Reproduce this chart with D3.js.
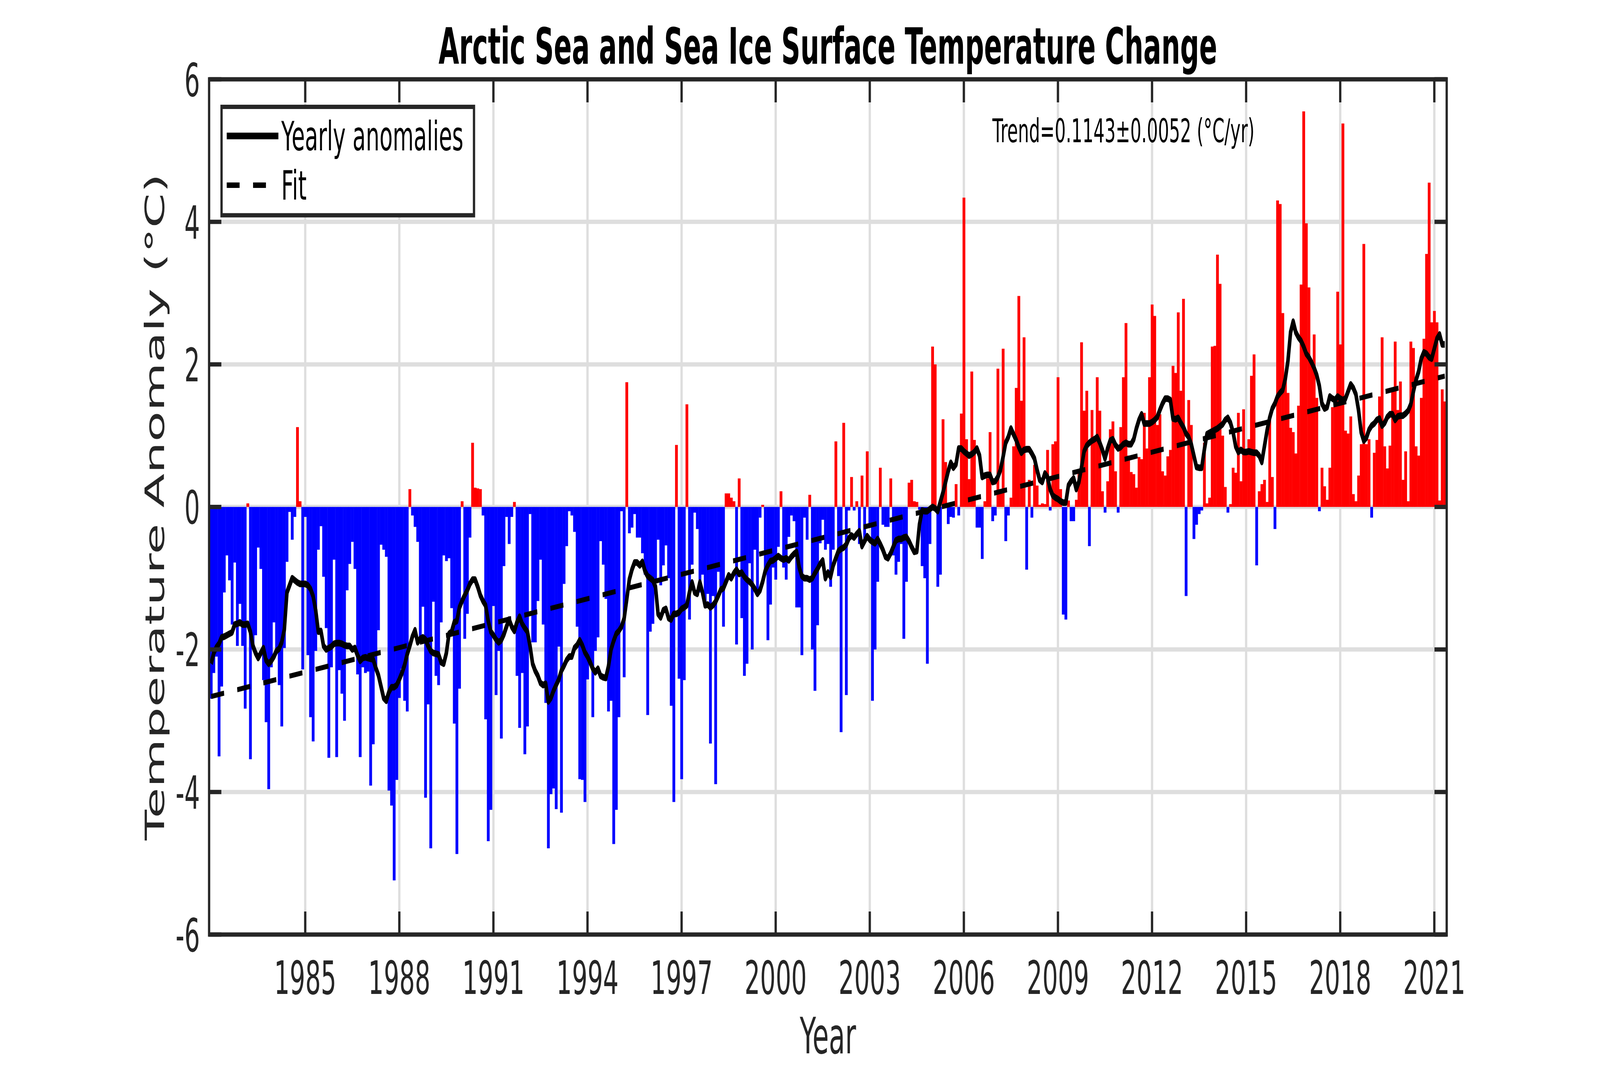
<!DOCTYPE html>
<html lang="en">
<head>
<meta charset="UTF-8">
<title>Arctic Sea and Sea Ice Surface Temperature Change</title>
<script src="https://d3js.org/d3.v7.min.js"></script>
<style>
  html, body { margin: 0; padding: 0; width: 100%; height: 100%; overflow: hidden; background: #fff; }
  svg { display: block; width: 100vw; height: 100vh; font-family: "DejaVu Sans", sans-serif; }
</style>
</head>
<body>
<svg id="chart" viewBox="0 0 7713 2731" preserveAspectRatio="none"></svg>
<script>
  const width = 7713;
  const height = 2731;
  const margin = {top: 203, right: 739, bottom: 339, left: 1008};

  // monthly anomalies (°C), Jan 1982 onward, one row per year
  const firstYear = 1982;
  const monthlyAnomaly = [
    -2.69, -2.33, -2.1, -3.5, -2.52, -1.2, -0.68, -1.03, -1.65, -0.78, -1.95, -1.36,
    -1.95, -2.83, 0.05, -3.54, -2.0, -1.8, -0.57, -0.87, -2.43, -3.02, -3.96, -2.25,
    -1.62, -2.0, -2.5, -3.08, -1.98, -0.77, -0.07, -0.46, -0.14, 1.12, 0.08, -2.28,
    -0.14, -2.08, -2.95, -3.29, -2.02, -0.6, -0.27, -0.98, -1.7, -3.52, -2.25, -0.74,
    -3.51, -2.29, -2.62, -3.0, -1.17, -0.8, -0.49, -0.87, -2.35, -3.51, -2.25, -2.33,
    -2.31, -3.91, -3.33, -2.29, -1.73, -0.53, -0.6, -0.7, -3.98, -4.19, -5.24, -3.83,
    -2.68, -2.27, -2.72, -2.87, 0.25, -0.12, -0.28, -0.49, -1.9, -1.4, -4.08, -2.77,
    -4.79, -1.33, -2.37, -2.5, -1.62, -0.68, -0.76, -0.72, -1.42, -3.04, -4.87, -2.55,
    0.08, -1.85, -1.5, -0.43, 0.9, 0.27, 0.26, 0.25, -0.12, -2.98, -4.69, -4.25,
    -1.39, -2.64, -2.02, -3.25, -0.83, -0.14, -0.52, -0.14, 0.07, -2.37, -3.1, -2.33,
    -3.47, -3.08, -0.1, -1.9, -1.9, -1.32, -0.74, -1.65, -2.75, -4.79, -4.03, -3.95,
    -4.24, -1.96, -4.29, -1.08, -0.55, -0.06, -0.12, -0.35, -1.68, -3.82, -3.83, -4.14,
    -2.42, -2.2, -2.95, -2.02, -1.83, -0.48, -0.81, -1.29, -2.87, -2.72, -4.73, -4.25,
    -2.95, -0.06, -2.39, 1.75, -0.37, -0.29, -0.1, -0.43, -0.43, -0.65, -0.95, -2.92,
    -1.75, -1.64, -1.06, -0.46, -1.1, -0.82, -0.54, -1.0, -2.79, -4.14, 0.87, -2.41,
    -3.82, -2.43, 1.44, -1.58, -0.81, -0.08, -0.31, -1.2, -0.95, -1.4, -1.22, -3.32,
    -1.25, -3.89, -0.91, -1.15, -1.68, 0.19, 0.19, 0.13, 0.08, -1.93, 0.4, -1.56,
    -2.37, -2.2, -0.79, -2.0, -0.6, -1.2, -0.15, 0.03, -0.95, -1.87, -1.37, -0.85,
    -1.02, -0.56, 0.22, -0.85, -1.02, -0.42, -0.12, -0.2, -1.41, -1.41, -2.08, -0.15,
    -0.46, 0.17, -2.0, -2.58, -1.66, -0.51, -0.18, -0.6, -0.52, -1.12, -0.6, 0.92,
    -0.97, -3.16, 1.18, -2.64, -0.05, 0.42, -0.05, 0.08, -0.52, 0.44, -0.45, 0.78,
    -0.29, -2.72, -2.0, -1.05, 0.55, -0.25, -0.28, -0.28, 0.4, -0.68, -0.95, -0.77,
    -0.52, -1.85, -1.05, 0.34, 0.38, 0.08, 0.07, -0.04, -0.83, -1.0, -2.2, -0.52,
    2.25, 2.0, -1.12, -0.95, 1.23, 0.63, -0.24, -0.14, -0.15, 0.32, -0.12, 1.31,
    4.34, 0.95, 0.39, 1.9, 0.94, -0.29, -0.29, -0.73, 0.08, 0.4, 1.05, -0.2,
    -0.12, 1.94, 0.25, 2.22, -0.48, -0.12, 0.13, 0.85, 1.67, 2.96, 1.49, 2.38,
    -0.88, 0.38, -0.15, 0.59, 0.3, 0.03, 0.05, 0.04, 0.8, -0.05, 0.88, 0.92,
    1.82, 0.25, -1.51, -1.58, 0.09, -0.2, -0.2, 0.1, 0.5, 2.31, 1.35, 1.63,
    -0.55, 1.36, 0.98, 1.82, 1.35, 0.22, -0.08, 0.36, 1.09, 1.2, 0.5, -0.08,
    1.12, 1.82, 2.58, 0.72, 0.49, 0.46, 0.27, 0.7, 0.67, 1.32, 0.82, 1.82,
    2.84, 2.68, 1.15, 1.3, 0.5, 0.44, 0.71, 0.8, 1.98, 1.88, 2.73, 1.63,
    2.92, -1.25, 1.5, 1.15, -0.45, -0.25, -0.1, -0.05, 0.9, 0.05, 0.13, 2.25,
    2.26, 3.54, 3.13, 1.0, 0.28, -0.08, 0.04, 0.55, 0.48, 1.32, 0.36, 1.37,
    0.78, 0.95, 1.84, 2.14, -0.82, 0.22, 0.32, 0.38, 0.07, 1.25, 0.42, -0.31,
    4.3, 4.25, 2.72, 1.8, 1.6, 1.11, 1.05, 0.75, 1.42, 3.12, 5.55, 3.98,
    3.08, 2.0, 2.42, 1.53, -0.06, 0.55, 0.29, 0.1, 0.55, 1.4, 1.45, 3.02,
    2.28, 5.38, 1.07, 1.03, 1.27, 0.18, 0.08, 0.44, 0.88, 3.69, 0.88, 0.95,
    -0.15, 0.76, 0.94, 1.55, 2.38, 0.85, 0.54, 0.86, 1.67, 2.32, 1.36, 1.76,
    0.38, 0.78, 0.08, 2.32, 2.23, 0.85, 0.72, 1.53, 2.36, 3.55, 4.55, 2.59,
    2.75, 2.59, 0.09, 1.65, 1.48
  ];

  // yearly (running) anomalies, same months
  const yearlyAnomaly = [
    -2.2, -2.05, -1.97, -1.92, -1.83, -1.82, -1.8, -1.78, -1.76, -1.65, -1.64, -1.62,
    -1.65, -1.65, -1.64, -1.75, -1.95, -2.05, -2.12, -2.05, -1.98, -2.15, -2.2, -2.16,
    -2.1, -2.02, -1.99, -1.9, -1.72, -1.2, -1.1, -1.0, -1.03, -1.06, -1.08, -1.08,
    -1.08, -1.1, -1.15, -1.25, -1.45, -1.75, -1.74, -1.95, -2.0, -1.98, -1.96, -1.92,
    -1.91, -1.91, -1.92, -1.94, -1.95, -1.95, -2.0, -1.98, -2.08, -2.16, -2.12, -2.11,
    -2.12, -2.13, -2.14, -2.26, -2.36, -2.52, -2.68, -2.72, -2.6, -2.53, -2.53, -2.5,
    -2.42, -2.33, -2.22, -2.07, -1.95, -1.82, -1.73, -1.9, -1.85, -1.83, -1.86, -1.95,
    -2.02, -2.05, -2.06, -2.07, -2.18, -2.2, -2.05, -1.78, -1.75, -1.62, -1.6, -1.41,
    -1.32, -1.24, -1.17, -1.08, -1.02, -1.02, -1.12, -1.24, -1.32, -1.38, -1.6, -1.75,
    -1.8, -1.86, -1.9, -1.87, -1.79, -1.68, -1.58, -1.68, -1.74, -1.62, -1.54, -1.64,
    -1.7, -1.75, -1.95, -2.2, -2.3, -2.37, -2.47, -2.5, -2.48, -2.73, -2.68, -2.58,
    -2.5, -2.42, -2.3, -2.23, -2.15, -2.1, -2.1, -1.98, -1.94, -1.87, -1.94, -2.04,
    -2.1, -2.18, -2.27, -2.32, -2.27, -2.37, -2.39, -2.4, -2.24, -2.0, -1.88, -1.78,
    -1.74, -1.68, -1.57, -1.3, -1.02, -0.88, -0.78, -0.78, -0.82, -0.77, -0.9, -0.97,
    -1.0, -1.03, -1.12, -1.5, -1.55, -1.45, -1.43, -1.56, -1.58, -1.5, -1.5, -1.48,
    -1.43, -1.41, -1.38, -1.2, -1.06, -1.2, -1.22, -1.06, -1.2, -1.38, -1.37, -1.41,
    -1.38, -1.33, -1.25, -1.16, -1.14, -1.05, -0.96, -1.0, -0.93, -0.88, -0.94, -0.92,
    -0.98, -1.02, -1.05, -1.09, -1.15, -1.22, -1.17, -1.05, -0.9, -0.82, -0.76, -0.75,
    -0.72, -0.69, -0.72, -0.74, -0.72, -0.75, -0.7, -0.66, -0.63, -0.85, -0.97, -1.0,
    -1.0, -1.02, -1.0, -0.93, -0.87, -0.8, -0.75, -1.0, -0.92, -0.98, -0.82, -0.72,
    -0.62, -0.59, -0.57, -0.53, -0.44, -0.4, -0.43, -0.38, -0.34, -0.55, -0.48, -0.41,
    -0.46, -0.49, -0.51, -0.45, -0.52, -0.6, -0.7, -0.72, -0.65, -0.56, -0.47, -0.45,
    -0.45, -0.43, -0.42, -0.48, -0.56, -0.63, -0.62, -0.25, -0.05, -0.06, -0.06, -0.03,
    0.0, -0.02, -0.06, 0.07, 0.2, 0.35, 0.5, 0.62, 0.55, 0.6, 0.82, 0.82,
    0.78, 0.75, 0.72, 0.74, 0.77, 0.82, 0.72, 0.42, 0.44, 0.45, 0.45, 0.35,
    0.36, 0.42, 0.52, 0.7, 0.9, 0.98, 1.1, 1.02, 0.94, 0.84, 0.76, 0.8,
    0.81, 0.81, 0.75, 0.68, 0.52, 0.38, 0.35, 0.47, 0.42, 0.25, 0.16, 0.13,
    0.11, 0.08, 0.06, 0.06, 0.3, 0.36, 0.4, 0.25, 0.35, 0.55, 0.78, 0.86,
    0.9, 0.93, 0.95, 0.98, 0.9, 0.8, 0.68, 0.82, 0.93, 0.95, 0.87, 0.82,
    0.84, 0.88, 0.9, 0.88, 0.88, 0.95, 1.1, 1.22, 1.3, 1.17, 1.17, 1.17,
    1.19, 1.22, 1.26, 1.36, 1.45, 1.52, 1.52, 1.5, 1.24, 1.23, 1.25, 1.18,
    1.12, 1.03, 0.98, 0.88, 0.72, 0.56, 0.55, 0.55, 0.8, 1.02, 1.04, 1.06,
    1.08, 1.1, 1.13, 1.16, 1.22, 1.25, 1.18, 1.05, 0.85, 0.77, 0.8, 0.77,
    0.77, 0.78, 0.77, 0.76, 0.76, 0.72, 0.63, 0.85, 1.07, 1.25, 1.38, 1.45,
    1.55, 1.6, 1.64, 1.8, 2.05, 2.45, 2.6, 2.45, 2.38, 2.33, 2.25, 2.15,
    2.1, 2.03, 1.95, 1.85, 1.7, 1.45, 1.38, 1.4, 1.55, 1.52, 1.5, 1.55,
    1.52, 1.5, 1.52, 1.62, 1.72, 1.67, 1.58, 1.36, 1.05, 0.93, 0.97, 1.08,
    1.14, 1.17, 1.22, 1.24, 1.14, 1.18, 1.26, 1.3, 1.3, 1.22, 1.27, 1.28,
    1.28, 1.31, 1.35, 1.44, 1.62, 1.78, 1.9, 2.08, 2.17, 2.15, 2.1, 2.08,
    2.22, 2.36, 2.42, 2.28, 2.28
  ];

  // linear fit: value at Jan 1982 and slope
  const fitAt1982 = -2.66;
  const trendPerYear = 0.1143;
  const trendLabel = 'Trend=0.1143\u00b10.0052 (\u00b0C/yr)';

  const xTicks = [1985, 1988, 1991, 1994, 1997, 2000, 2003, 2006, 2009, 2012, 2015, 2018, 2021];
  const yTicks = [-6, -4, -2, 0, 2, 4, 6];
  const legendLabels = ['Yearly anomalies', 'Fit'];

  const data = monthlyAnomaly.map((v, i) => ({t: firstYear + i / 12, v: v, yr: yearlyAnomaly[i]}));

  const x = d3.scaleLinear()
      .domain([1981.935, 2021.395])
      .range([margin.left, width - margin.right]);

  const y = d3.scaleLinear()
      .domain([-6, 6])
      .range([height - margin.bottom, margin.top]);

  const axisColor = '#262626';
  const svg = d3.select('#chart');

  svg.append('rect').attr('width', width).attr('height', height).attr('fill', '#fff');

  svg.append('clipPath').attr('id', 'plot-clip')
    .append('rect')
      .attr('x', margin.left).attr('y', margin.top)
      .attr('width', width - margin.left - margin.right)
      .attr('height', height - margin.top - margin.bottom);

  // grid
  const grid = svg.append('g').attr('stroke', '#dedede').attr('stroke-width', 11);
  grid.selectAll('.gx').data(xTicks).enter().append('line')
      .attr('x1', d => x(d)).attr('x2', d => x(d))
      .attr('y1', y(6)).attr('y2', y(-6));
  grid.selectAll('.gy').data(yTicks).enter().append('line')
      .attr('x1', x.range()[0]).attr('x2', x.range()[1])
      .attr('y1', d => y(d)).attr('y2', d => y(d));

  const plot = svg.append('g').attr('clip-path', 'url(#plot-clip)');

  // monthly bars
  const half = 1 / 24;
  plot.append('g').selectAll('rect').data(data).enter().append('rect')
      .attr('x', d => x(d.t - half))
      .attr('width', d => x(d.t + half) - x(d.t - half) + 0.8)
      .attr('y', d => Math.min(y(d.v), y(0)))
      .attr('height', d => Math.abs(y(d.v) - y(0)))
      .attr('fill', d => d.v >= 0 ? '#ff0000' : '#0000ff');

  // yearly anomalies
  plot.append('path').datum(data)
      .attr('fill', 'none')
      .attr('stroke', '#000')
      .attr('stroke-width', 17)
      .attr('stroke-linejoin', 'round')
      .attr('d', d3.line().x(d => x(d.t)).y(d => y(d.yr)));

  // fit
  const tEnd = data[data.length - 1].t;
  const fitPts = [firstYear, tEnd].map(t => ({t: t, v: fitAt1982 + trendPerYear * (t - firstYear)}));
  plot.append('path').datum(fitPts)
      .attr('fill', 'none')
      .attr('stroke', '#000')
      .attr('stroke-width', 13)
      .attr('stroke-dasharray', '63 64')
      .attr('d', d3.line().x(d => x(d.t)).y(d => y(d.v)));

  // axes box and inward ticks
  const axes = svg.append('g').attr('stroke', axisColor).attr('stroke-width', 11);
  axes.append('rect')
      .attr('x', x.range()[0]).attr('y', y(6))
      .attr('width', x.range()[1] - x.range()[0])
      .attr('height', y(-6) - y(6))
      .attr('fill', 'none');
  const tl = 59;
  xTicks.forEach(t => {
    axes.append('line').attr('x1', x(t)).attr('x2', x(t)).attr('y1', y(-6)).attr('y2', y(-6) - tl);
    axes.append('line').attr('x1', x(t)).attr('x2', x(t)).attr('y1', y(6)).attr('y2', y(6) + tl);
  });
  yTicks.forEach(v => {
    axes.append('line').attr('x1', x.range()[0]).attr('x2', x.range()[0] + tl).attr('y1', y(v)).attr('y2', y(v));
    axes.append('line').attr('x1', x.range()[1]).attr('x2', x.range()[1] - tl).attr('y1', y(v)).attr('y2', y(v));
  });

  // tick labels
  svg.append('g').attr('font-size', 118).attr('fill', axisColor).attr('text-anchor', 'middle')
    .selectAll('text').data(xTicks).enter().append('text')
      .attr('x', d => x(d)).attr('y', 2544)
      .text(d => d);
  svg.append('g').attr('font-size', 118).attr('fill', axisColor).attr('text-anchor', 'end')
    .selectAll('text').data(yTicks).enter().append('text')
      .attr('x', 964).attr('y', d => y(d) + 43)
      .text(d => d);

  // titles
  const cx = (x.range()[0] + x.range()[1]) / 2;
  svg.append('text')
      .attr('x', cx).attr('y', 163)
      .attr('text-anchor', 'middle')
      .attr('font-size', 128).attr('font-weight', 'bold').attr('fill', '#000')
      .text('Arctic Sea and Sea Ice Surface Temperature Change');
  svg.append('text')
      .attr('x', cx).attr('y', 2696)
      .attr('text-anchor', 'middle')
      .attr('font-size', 128).attr('fill', axisColor)
      .text('Year');
  svg.append('text')
      .attr('transform', `translate(790, ${(y(6) + y(-6)) / 2}) rotate(-90)`)
      .attr('text-anchor', 'middle')
      .attr('font-size', 128).attr('fill', axisColor)
      .text('Temperature Anomaly (\u00b0C)');

  // trend annotation
  svg.append('text')
      .attr('x', 4784).attr('y', 364)
      .attr('font-size', 84).attr('fill', '#000')
      .text(trendLabel);

  // legend
  const legend = svg.append('g');
  legend.append('rect')
      .attr('x', 1068).attr('y', 273.5)
      .attr('width', 1217).attr('height', 277.5)
      .attr('fill', '#fff')
      .attr('stroke', axisColor).attr('stroke-width', 11);
  const legendRows = [
    {label: legendLabels[0], y: 348, width: 17, dash: null},
    {label: legendLabels[1], y: 474, width: 14, dash: '62 65'}
  ];
  legendRows.forEach(r => {
    legend.append('line')
        .attr('x1', 1093).attr('x2', 1342)
        .attr('y1', r.y).attr('y2', r.y)
        .attr('stroke', '#000').attr('stroke-width', r.width)
        .attr('stroke-dasharray', r.dash);
    legend.append('text')
        .attr('x', 1356).attr('y', r.y + 37)
        .attr('font-size', 104).attr('fill', '#000')
        .text(r.label);
  });
</script>
</body>
</html>
